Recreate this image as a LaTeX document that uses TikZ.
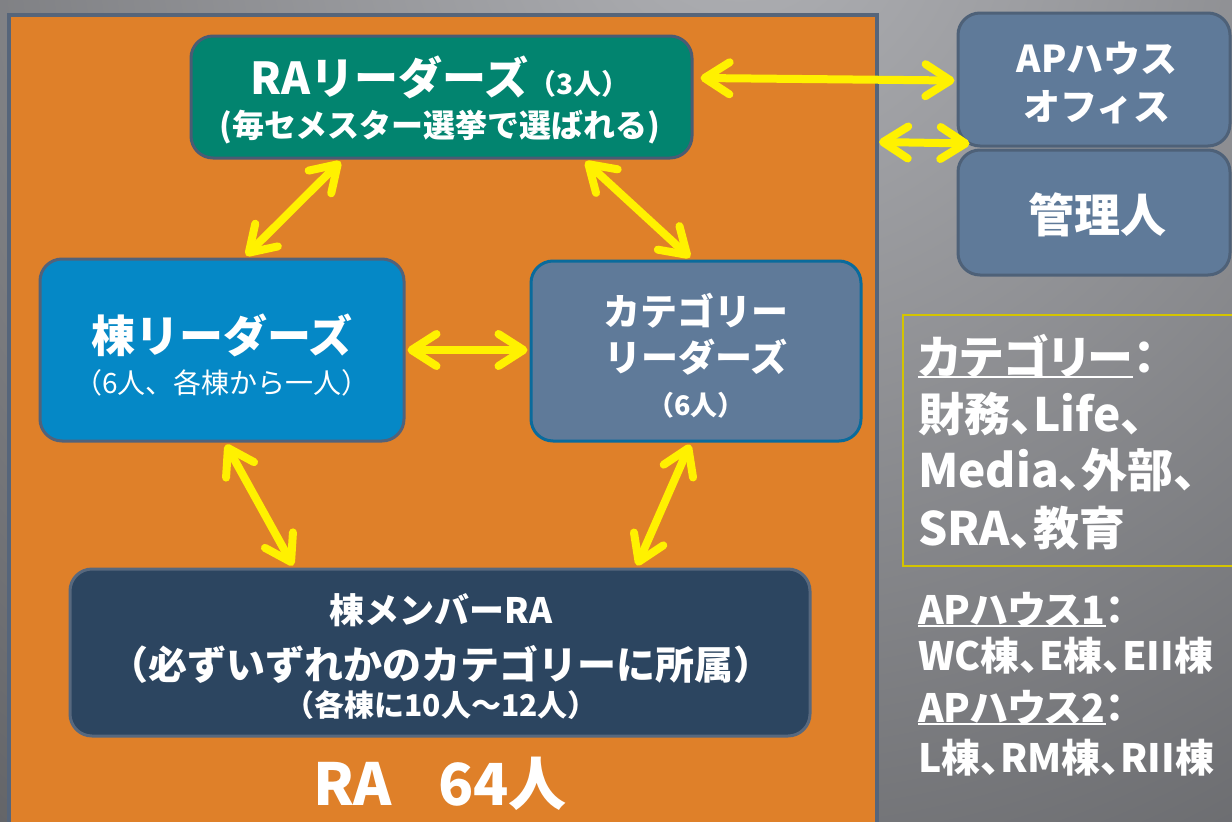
\documentclass[tikz,border=0pt]{standalone}
\usepackage{fontspec}
\setmainfont{Noto Sans CJK JP}
\newfontfamily\jpp{Noto Sans CJK JP}[RawFeature=+palt]
\usetikzlibrary{arrows.meta,calc}
\definecolor{bglight}{HTML}{B0B1B5}
\definecolor{bgdark}{HTML}{36373A}
\definecolor{orangebg}{HTML}{DF8029}
\definecolor{frameline}{HTML}{56657A}
\definecolor{rafill}{HTML}{02846F}
\definecolor{raline}{HTML}{4A5C74}
\definecolor{blfill}{HTML}{0588C6}
\definecolor{blline}{HTML}{52627A}
\definecolor{catfill}{HTML}{5F7A99}
\definecolor{catline}{HTML}{0A6B9C}
\definecolor{memfill}{HTML}{2C4560}
\definecolor{memline}{HTML}{57687E}
\definecolor{apfill}{HTML}{5F7A99}
\definecolor{apline}{HTML}{4E6178}
\definecolor{arrowyellow}{HTML}{FFF100}
\definecolor{boxyellow}{HTML}{D4C400}
\newcommand{\myfs}[1]{\fontsize{#1}{#1}\selectfont}
\newcommand{\myul}[2]{\setbox0\hbox{#2}\rlap{\rule[-#1]{\wd0}{2.5pt}}\box0}
\tikzset{
  yb/.tip={Straight Barb[round,length=25pt,width=32pt]},
  dar/.style={draw=arrowyellow,line width=8pt,arrows={yb-yb}},
  rbox/.style={rounded corners=22pt,line width=3pt,inner sep=0pt},
  txt/.style={text=white,inner sep=0pt,align=center,font=\bfseries},
  cl/.style={text=white,inner sep=0pt,anchor=base west,font=\bfseries\jpp\myfs{46}},
  al/.style={text=white,inner sep=0pt,anchor=base west,font=\bfseries\jpp\myfs{39}},
}
\begin{document}
\begin{tikzpicture}[x=1pt,y=-1pt]
\useasboundingbox (0,0) rectangle (1232,822);
\begin{scope}
  \clip (0,0) rectangle (1232,822);
  \shade[inner color=bglight,outer color=bgdark] (740,-100) circle (1900);
\end{scope}
% orange frame
\node[fill=orangebg,draw=frameline,line width=4pt,inner sep=0pt,minimum width=868pt,minimum height=818pt] (frame) at (443,424) {};
% boxes
\node[rbox,fill=rafill,draw=raline,minimum width=501pt,minimum height=122pt] (ra) at (441.5,97) {};
\node[rbox,fill=blfill,draw=blline,minimum width=364pt,minimum height=182pt] (bl) at (222,350) {};
\node[rbox,fill=catfill,draw=catline,minimum width=330pt,minimum height=180pt] (cat) at (696,351) {};
\node[rbox,fill=memfill,draw=memline,minimum width=740pt,minimum height=167pt] (mem) at (440,652.5) {};
\node[rbox,fill=apfill,draw=apline,minimum width=272pt,minimum height=133pt] (ap) at (1094,79.5) {};
\node[rbox,fill=apfill,draw=apline,minimum width=272pt,minimum height=125pt] (kan) at (1094,212.5) {};
\node[draw=boxyellow,line width=1.5pt,inner sep=0pt,minimum width=340pt,minimum height=251pt] (catbox) at (1073,440.5) {};
% texts
\node[txt] (ra1) at (440,77) {\myfs{44}RAリーダーズ{\myfs{28}（3人）}};
\node[txt] (ra2) at (440,127) {\myfs{32}(毎セメスター選挙で選ばれる)};
\node[txt] (bl1) at (222,335) {\myfs{44}棟リーダーズ};
\node[txt,font=\mdseries] (bl2) at (222,383) {\myfs{28}（6人、各棟から一人）};
\node[txt] (cat1) at (696,311) {\myfs{37}カテゴリー};
\node[txt] (cat2) at (696,357) {\myfs{37}リーダーズ};
\node[txt] (cat3) at (696,405) {\myfs{27}（6人）};
\node[txt] (mem1) at (441,610) {\myfs{35}棟メンバーRA};
\node[txt] (mem2) at (441,664) {\myfs{39}（必ずいずれかのカテゴリーに所属）};
\node[txt] (mem3) at (441,705) {\myfs{30}（各棟に10人～12人）};
\node[txt] (ra64) at (440,784) {\myfs{58}RA\hspace{46pt}64人};
\node[txt] (ap1) at (1097,58) {\myfs{37}APハウス};
\node[txt] (ap2) at (1097,107) {\myfs{37}オフィス};
\node[txt] (kan1) at (1097,215) {\myfs{46}管理人};
% right lists
\node[cl] (c1) at (918,374) {\myul{4pt}{カテゴリー}：};
\node[cl] (c2) at (918,431) {財務、Life、};
\node[cl] (c3) at (918,487) {Media、外部、};
\node[cl] (c4) at (918,545) {SRA、教育};
\node[al] (a1) at (918,624) {\myul{3pt}{APハウス1}：};
\node[al] (a2) at (918,670) {WC棟、E棟、EII棟};
\node[al] (a3) at (918,722) {\myul{3pt}{APハウス2}：};
\node[al] (a4) at (918,772) {L棟、RM棟、RII棟};
% arrows
\draw[dar] ($(ra.east)+(7,-19)$) -- ($(ap.west)+(-2,1)$);
\draw[dar] (frame.east |- 0,142) -- ($(ap.south west)+(13,-4)$);
\draw[dar] ($(ra.south)+(-101,2)$) -- ($(bl.north)+(24,-2)$);
\draw[dar] ($(ra.south)+(144,2)$) -- ($(cat.north)+(-6,-2)$);
\draw[dar] ($(bl.east)+(2,0)$) -- ($(cat.west)+(-2,-1)$);
\draw[dar] ($(bl.south)+(4,2)$) -- ($(mem.north)+(-147,-2)$);
\draw[dar] ($(cat.south)+(-6,2)$) -- ($(mem.north)+(197,-2)$);
\end{tikzpicture}
\end{document}
